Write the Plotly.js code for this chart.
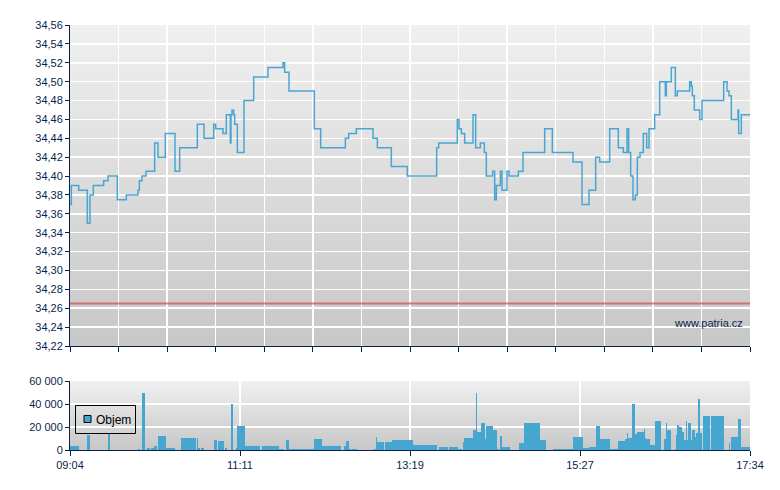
<!DOCTYPE html>
<html>
<head>
<meta charset="utf-8">
<script src="https://cdn.plot.ly/plotly-3.0.1.min.js"></script>
<style>html,body{margin:0;padding:0;background:#fff;}#chart{width:780px;height:490px;}</style>
</head>
<body>
<div id="chart"></div>
<script>
// ---- DATA ----
// minutes after 09:04 (session 09:04 - 17:34)
const timeLabels = ['09:04', '11:11', '13:19', '15:27', '17:34'];
const sessionMinutes = 510;
const prevClose = 34.265;
const legendLabel = 'Objem';

const priceMin = [0, 1, 6.5, 13, 15, 17.5, 25.25, 28.5, 35.5, 42.25, 51, 52, 54, 57, 63.5, 66, 71.5, 78.75, 82.25, 95.5,
  100.5, 107.75, 109.25, 114.75, 117.25, 120.25, 120.75, 121.5, 122.75, 123.5, 125.5, 130.5, 137.75, 148.5, 159.75, 161, 164.25,
  183.25, 188, 206.5, 209, 214.75, 227.25, 230.5, 241, 253, 275, 276.5, 290.5, 291.75, 293.5, 296, 302.25, 304.25, 307.75,
  310.75, 312.25, 317, 318.5, 319.75, 322.75, 324, 327.75, 329.25, 336.25, 339.75, 356, 361.75, 377.25, 384, 389.25, 394.25,
  397.25, 404.75, 411.25, 415, 417.75, 419, 420.5, 422.25, 424, 425.5, 427.5, 430, 432.5, 434.25, 438.5, 442.25, 446.5, 447.25,
  451, 454, 455.5, 464.75, 466, 466.75, 468.25, 472.25, 474, 490.25, 492.75, 494.25, 496, 501, 501.5, 503.5, 510];
const priceVal = [34.37, 34.39, 34.385, 34.35, 34.38, 34.39, 34.395, 34.40, 34.375, 34.38, 34.385, 34.395, 34.40, 34.405, 34.435, 34.42, 34.445, 34.405, 34.43, 34.455,
  34.44, 34.455, 34.45, 34.445, 34.465, 34.435, 34.465, 34.47, 34.465, 34.455, 34.425, 34.48, 34.505, 34.515, 34.52, 34.51, 34.49,
  34.45, 34.43, 34.44, 34.445, 34.45, 34.44, 34.43, 34.41, 34.40, 34.43, 34.435, 34.46, 34.45, 34.445, 34.435, 34.465, 34.43, 34.435,
  34.425, 34.40, 34.405, 34.375, 34.39, 34.405, 34.385, 34.405, 34.40, 34.405, 34.425, 34.45, 34.425, 34.415, 34.37, 34.385, 34.42,
  34.415, 34.45, 34.43, 34.425, 34.45, 34.425, 34.40, 34.375, 34.38, 34.42, 34.425, 34.445, 34.43, 34.45, 34.465, 34.50, 34.485, 34.50,
  34.515, 34.485, 34.49, 34.50, 34.495, 34.485, 34.47, 34.46, 34.48, 34.50, 34.49, 34.485, 34.46, 34.47, 34.445, 34.465, 34.465];

const volStart = [0, 12.75, 28.5, 51, 53.75, 57.75, 60.75, 63, 66, 71.75, 83.5, 95, 95.75, 98.25, 108, 111, 116, 120.5, 124.5, 125.5,
  131, 144, 156.75, 162, 164, 183, 189, 205.5, 207, 209, 211.75, 227.75, 229.75, 230.5, 236.25, 241.5, 250, 257, 276.5, 284.25,
  290.75, 294.75, 295.5, 302.25, 304.5, 305.25, 308.25, 311.25, 312, 317.25, 320.25, 322.5, 324.25, 336.75, 340.5, 352.5, 362.25,
  377.25, 384.75, 389.25, 394.5, 397.5, 405, 411, 416.25, 417.75, 418.5, 421.5, 423.75, 425.25, 430.5, 431.25, 432, 435, 438.75,
  445.5, 447, 447.75, 453.75, 454.5, 455.25, 456.75, 459, 460.5, 462, 462.75, 463.5, 465.75, 466.5, 468.75, 469.5, 471, 472.5,
  474.75, 480.75, 494.25, 495.75, 501, 503.25];
const volEnd = [6.75, 15, 29.75, 52.25, 56.25, 60, 63, 65, 71.75, 78.5, 94.5, 95.75, 97.5, 100.5, 110, 115.25, 117.5, 122, 125.5, 131,
  142.5, 156.75, 160.5, 164, 183, 189, 203.25, 207, 209, 210.5, 215, 229.75, 230.5, 235.5, 241.5, 250, 257, 275, 283.25, 290.75,
  294, 295.5, 302.25, 304.5, 305.25, 308.25, 311.25, 312, 317.25, 320.25, 321.75, 324.25, 330, 340.5, 352.5, 357, 377.25,
  384.75, 389.25, 394.5, 397.5, 405, 411, 416.25, 417.75, 418.5, 421.5, 423.75, 425.25, 430.5, 431.25, 432, 435, 438.75, 443.25,
  447, 447.75, 450.75, 454.5, 455.25, 456.75, 459, 460.5, 462, 462.75, 463.5, 465.75, 466.5, 468.75, 469.5, 471, 472.5, 474,
  480, 490.5, 495, 501, 503.25, 510];
const volValue = [3500, 13000, 14500, 1000, 50000, 2000, 2000, 3500, 12000, 2000, 10500, 10500, 2000, 2000, 8500, 7600, 1800, 40000, 1800, 21000,
  3500, 3500, 900, 8500, 900, 9500, 3500, 3200, 7600, 900, 900, 900, 11000, 6700, 6700, 8800, 8800, 4000, 2600, 2600,
  900, 7300, 10600, 17600, 50000, 15900, 23800, 9700, 21200, 17600, 900, 12300, 2600, 6200, 23800, 8800, 900,
  11500, 1800, 2600, 21200, 9700, 900, 7900, 9700, 15000, 10600, 40000, 14100, 15900, 18500, 10600, 9700, 4400, 25600,
  9700, 23800, 17600, 900, 13200, 22000, 20300, 15900, 8800, 25600, 8800, 23800, 8800, 17600, 11500, 15000, 44000, 15000,
  30000, 30000, 6200, 11500, 27300, 2600];

// ---- STYLE ----
const navy = '#0a1f4f';
const lineBlue = '#4aa6d1';
const barBlue = '#45a6d0';
const font = {family: 'Liberation Sans, Arial, sans-serif', size: 11, color: navy};

const topTicks = [];
for (let i = 0; i <= 14; i++) topTicks.push(sessionMinutes * i / 14);
const bottomTicks = timeLabels.map((_, i) => sessionMinutes * i / (timeLabels.length - 1));
const volWidth = volStart.map((s, i) => volEnd[i] - s);

const W = 680; // plot area width px (70..750)
const H = 425; // plot area height px (25..450)
const px = x => (x - 70) / W;
const py = y => (450 - y) / H;
const topDomain = [py(346), 1];
const botDomain = [0, py(381)];

function gradientSvg() {
  const svg = '<svg xmlns="http://www.w3.org/2000/svg" width="10" height="100" viewBox="0 0 10 100" preserveAspectRatio="none">' +
    '<defs><linearGradient id="g" x1="0" y1="0" x2="0" y2="1"><stop offset="0" stop-color="#f0f0f0"/><stop offset="1" stop-color="#c7c7c7"/></linearGradient></defs>' +
    '<rect x="0" y="0" width="10" height="100" fill="url(#g)"/></svg>';
  return 'data:image/svg+xml;base64,' + btoa(svg);
}

const traces = [
  {type: 'scatter', mode: 'lines', x: [0, sessionMinutes], y: [prevClose, prevClose], xaxis: 'x', yaxis: 'y',
   line: {color: 'rgba(215,80,80,0.75)', width: 2}, hoverinfo: 'skip'},
  {type: 'scatter', mode: 'lines', x: priceMin, y: priceVal, xaxis: 'x', yaxis: 'y',
   line: {color: lineBlue, width: 1.5, shape: 'hv'}},
  {type: 'bar', x: volStart, y: volValue, width: volWidth, offset: 0, xaxis: 'x2', yaxis: 'y2', name: legendLabel,
   marker: {color: barBlue, line: {width: 0}}}
];

const layout = {
  width: 780, height: 490,
  margin: {l: 70, r: 30, t: 25, b: 40},
  paper_bgcolor: '#ffffff',
  plot_bgcolor: 'rgba(0,0,0,0)',
  font: font,
  separators: ', ',
  showlegend: false,
  bargap: 0,
  xaxis: {domain: [0, 1], range: [0, sessionMinutes], anchor: 'y', tickmode: 'array', tickvals: topTicks,
          ticktext: topTicks.map(() => ''), showticklabels: false, ticks: 'outside', ticklen: 5, tickcolor: navy,
          showgrid: true, gridcolor: '#ffffff', gridwidth: 1.5, showline: true, linecolor: navy, linewidth: 1,
          zeroline: false, fixedrange: true},
  yaxis: {domain: topDomain, range: [34.22, 34.56], dtick: 0.02, tick0: 34.22, tickformat: '.2f', anchor: 'x',
          ticks: 'outside', ticklen: 4, tickcolor: navy, showgrid: true, gridcolor: '#ffffff', gridwidth: 1.5,
          showline: true, linecolor: navy, linewidth: 1, zeroline: false, fixedrange: true},
  xaxis2: {domain: [0, 1], range: [0, sessionMinutes], anchor: 'y2', tickmode: 'array', tickvals: bottomTicks,
           ticktext: timeLabels, ticks: 'outside', ticklen: 5, tickcolor: navy,
           showgrid: true, gridcolor: '#ffffff', gridwidth: 1.5, showline: true, linecolor: navy, linewidth: 1,
           zeroline: false, fixedrange: true},
  yaxis2: {domain: botDomain, range: [0, 60000], dtick: 20000, tickformat: ',d', anchor: 'x2',
           ticks: 'outside', ticklen: 4, tickcolor: navy, showgrid: true, gridcolor: '#ffffff', gridwidth: 1.5,
           showline: true, linecolor: navy, linewidth: 1, zeroline: false, fixedrange: true},
  images: [
    {source: gradientSvg(), xref: 'paper', yref: 'paper', x: 0, y: 1, sizex: 1, sizey: 1 - topDomain[0],
     xanchor: 'left', yanchor: 'top', sizing: 'stretch', layer: 'below'},
    {source: gradientSvg(), xref: 'paper', yref: 'paper', x: 0, y: botDomain[1], sizex: 1, sizey: botDomain[1],
     xanchor: 'left', yanchor: 'top', sizing: 'stretch', layer: 'below'}
  ],
  shapes: [
    // legend frame and swatch
    {type: 'rect', xref: 'paper', yref: 'paper', x0: px(75.5), x1: px(135.5), y0: py(405.5), y1: py(433.5),
     line: {color: '#000', width: 1}, fillcolor: 'rgba(0,0,0,0)', layer: 'above'},
    {type: 'rect', xref: 'paper', yref: 'paper', x0: px(84), x1: px(91), y0: py(415.5), y1: py(422.5),
     line: {color: '#000', width: 1}, fillcolor: barBlue, layer: 'above'}
  ],
  annotations: [
    {text: 'www.patria.cz', xref: 'paper', yref: 'paper', x: px(745), xanchor: 'right',
     y: py(323), yanchor: 'middle', showarrow: false, font: {family: font.family, size: 11, color: navy}},
    {text: legendLabel, xref: 'paper', yref: 'paper', x: px(94), xanchor: 'left',
     y: py(419.5), yanchor: 'middle', showarrow: false, font: {family: font.family, size: 12, color: '#000'}}
  ]
};

Plotly.newPlot('chart', traces, layout, {displayModeBar: false, staticPlot: true});
</script>
</body>
</html>
